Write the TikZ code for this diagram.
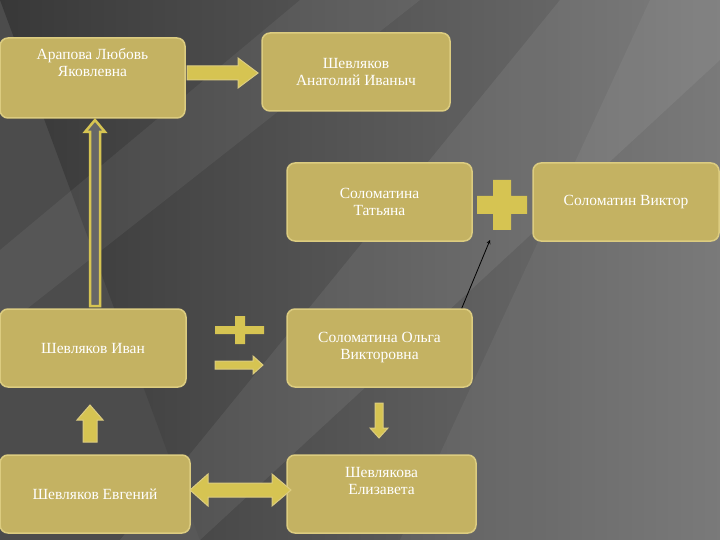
\documentclass[tikz,border=0pt]{standalone}
\usepackage{fontspec}
\setmainfont{Liberation Serif}
\definecolor{boxf}{HTML}{C4B262}
\definecolor{boxd}{HTML}{DCCC80}
\definecolor{sym}{HTML}{D6C452}
\tikzset{
 pbox/.style={draw=boxd,line width=1.5pt,fill=boxf,rounded corners=8pt,text=white,align=center,font=\fontsize{15.5}{17}\selectfont,inner sep=0pt},
 blk/.style={fill=sym,draw=boxd,line width=1pt},
}
\begin{document}
\begin{tikzpicture}[x=1pt,y=-1pt]
\useasboundingbox (0,0) rectangle (720,540);
\fill[black!70] (0,0) rectangle (720,540);
\shade[left color=black!78,right color=black!55] (0,0) -- (720,0) -- (720,540) -- (200,540) -- cycle;
\fill[white,opacity=0.06] (300,0) -- (420,0) -- (0,330) -- (0,250) -- cycle;
\fill[white,opacity=0.07] (560,0) -- (720,0) -- (720,60) -- (200,540) -- (120,540) -- cycle;
\fill[white,opacity=0.05] (650,0) -- (720,0) -- (720,540) -- (400,540) -- cycle;
\node[pbox,minimum width=185,minimum height=80] (A) at (92.5,78) {Арапова Любовь\\Яковлевна\\[14pt]};
\node[pbox,minimum width=188,minimum height=78] (B) at (356,72) {Шевляков\\Анатолий Иваныч};
\node[pbox,minimum width=185,minimum height=78] (C) at (379.5,202) {Соломатина\\Татьяна};
\node[pbox,minimum width=186,minimum height=78] (D) at (626,202) {Соломатин Виктор};
\node[pbox,minimum width=186,minimum height=78] (E) at (93,348) {Шевляков Иван};
\node[pbox,minimum width=185,minimum height=78] (F) at (379.5,348) {Соломатина Ольга\\Викторовна};
\node[pbox,minimum width=190,minimum height=78] (G) at (95,494) {Шевляков Евгений};
\node[pbox,minimum width=189,minimum height=78] (H) at (381.5,494) {Шевлякова\\Елизавета\\[10pt]};
% A -> B
\filldraw[blk] (187,66) -- (238,66) -- (238,58) -- (258,73) -- (238,88) -- (238,80) -- (187,80) -- cycle;
% E -> A hollow up arrow
\filldraw[draw=sym,fill=black!60,line width=2.5pt,line join=miter] (90,306) -- (90,132) -- (85,132) -- (95,120) -- (105,132) -- (100,132) -- (100,306) -- cycle;
% plus between C and D
\fill[sym] (477,196) rectangle (527,214) (493,180) rectangle (511,230);
% plus and arrow between E and F
\fill[sym] (215,326) rectangle (264,334) (235,316) rectangle (245,344);
\filldraw[blk] (215,361) -- (253,361) -- (253,356) -- (263,365) -- (253,374) -- (253,369) -- (215,369) -- cycle;
% F -> C thin
\draw[-stealth,black,line width=0.8pt] (F.north east) ++(-11,0) coordinate (f1) -- (490,240) coordinate (c1);
% up block arrow
\filldraw[blk] (83,442) -- (83,420) -- (77,420) -- (90,405) -- (103,420) -- (97,420) -- (97,442) -- cycle;
% down arrow
\filldraw[blk] (375,403) -- (383,403) -- (383,428) -- (388,428) -- (379,438) -- (370,428) -- (375,428) -- cycle;
% double arrow G-H
\filldraw[blk] (190,490) -- (208,474) -- (208,483) -- (272,483) -- (272,474) -- (291,490) -- (272,506) -- (272,497) -- (208,497) -- (208,506) -- cycle;
\end{tikzpicture}
\end{document}
